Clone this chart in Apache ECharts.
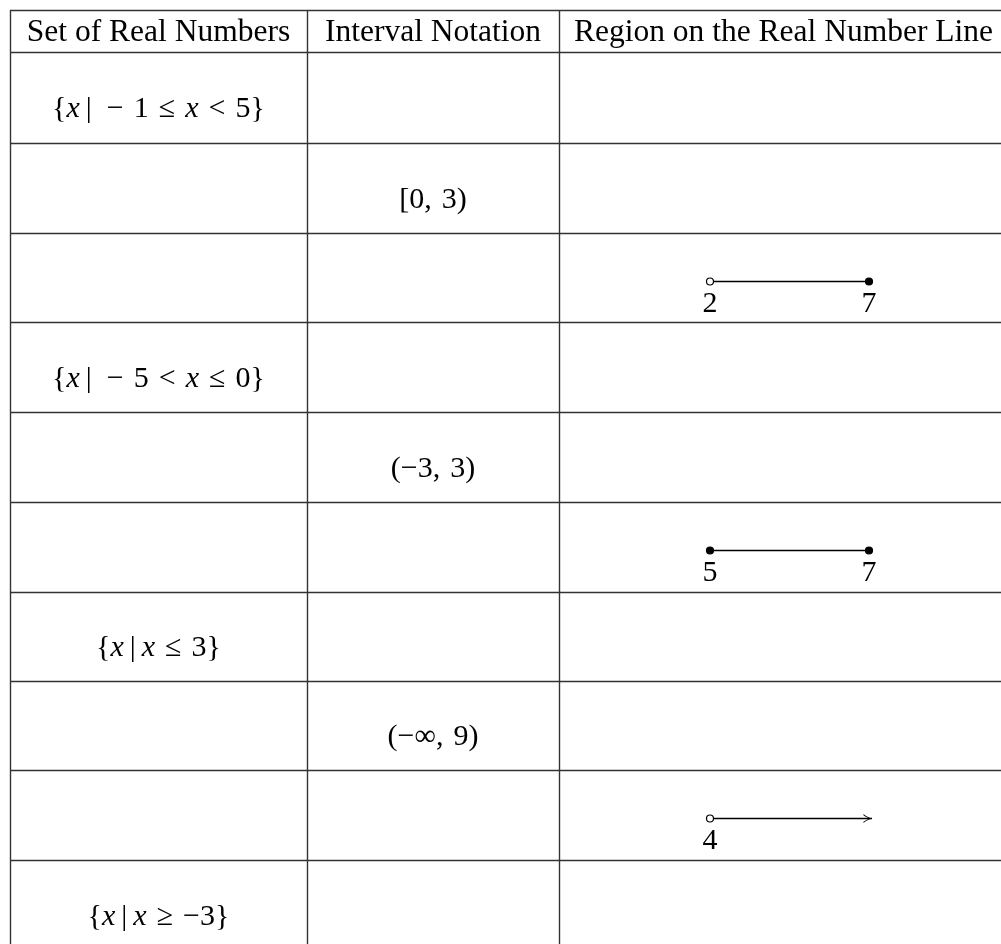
<!DOCTYPE html>
<html>
<head>
<meta charset="utf-8">
<script src="https://cdn.jsdelivr.net/npm/echarts@6/dist/echarts.min.js"></script>
<style>
html,body{margin:0;padding:0;background:#fff;}
#c{width:1001px;height:944px;}
</style>
</head>
<body>
<div id="c"></div>
<script>
// ---- data ----
var headers = ['Set of Real Numbers', 'Interval Notation', 'Region on the Real Number Line'];
// set-builder text per row (null = empty); pieces: [text, italic?]
var S = '\u2004', T = '\u2009', E = '\u2002';
var setRows = [
  [['{',0],['x',1],[T + '|' + E + '−' + S + '1' + S + '≤' + S,0],['x',1],[S + '<' + S + '5}',0]],
  null, null,
  [['{',0],['x',1],[T + '|' + E + '−' + S + '5' + S + '<' + S,0],['x',1],[S + '≤' + S + '0}',0]],
  null, null,
  [['{',0],['x',1],[T + '|' + T,0],['x',1],[S + '≤' + S + '3}',0]],
  null, null,
  [['{',0],['x',1],[T + '|' + T,0],['x',1],[S + '≥' + S + '−3}',0]]
];
var intervalRows = [null, '[0,' + S + '3)', null, null, '(−3,' + S + '3)', null, null, '(−∞,' + S + '9)', null, null];
// number lines: row index, start, end, start closed?, end closed? (end Infinity = arrow)
var lineRows    = [2, 5, 8];
var lineStart   = [2, 5, 4];
var lineEnd     = [7, 7, Infinity];
var startClosed = [false, true, false];
var endClosed   = [true, true, false];

// ---- layout ----
var colEdges = [10, 307, 559, 1008];
var rowEdges = [10, 52, 143, 233, 322, 412, 502, 592, 681, 770, 860, 950];
var FONT = '"Liberation Serif", "DejaVu Serif", serif';
var FS = 30, HFS = 31.5;
var LINE_COLOR = '#333';
var INK = '#000';

function rowTop(i){ return rowEdges[i + 1]; }
function rowBot(i){ return rowEdges[i + 2]; }

var graphics = [];
rowEdges.forEach(function(y, idx){
  if (idx === rowEdges.length - 1) return;
  graphics.push({type:'line', shape:{x1:colEdges[0], y1:y + 0.5, x2:colEdges[3], y2:y + 0.5}, style:{stroke:LINE_COLOR, lineWidth:1.4}, silent:true});
});
colEdges.forEach(function(x){
  graphics.push({type:'line', shape:{x1:x + 0.5, y1:rowEdges[0], x2:x + 0.5, y2:rowEdges[rowEdges.length - 1]}, style:{stroke:LINE_COLOR, lineWidth:1.4}, silent:true});
});
headers.forEach(function(h, j){
  graphics.push({type:'text', x:(colEdges[j] + colEdges[j + 1]) / 2, y:(rowEdges[0] + rowEdges[1]) / 2 + 2,
    style:{text:h, font: HFS + 'px ' + FONT, fill:INK, align:'center', verticalAlign:'middle'}, silent:true});
});
var rich = {
  i: {fontFamily: FONT, fontSize: FS, fontStyle: 'italic', fill:INK}
};
setRows.forEach(function(r, i){
  if (!r) return;
  var txt = r.map(function(p){ return p[1] ? '{i|' + p[0] + '}' : p[0]; }).join('');
  graphics.push({type:'text', x:(colEdges[0] + colEdges[1]) / 2, y:(rowTop(i) + rowBot(i)) / 2 + 12,
    style:{text: txt, rich: rich, font: FS + 'px ' + FONT, fill:INK, align:'center', verticalAlign:'middle'}, silent:true});
});
intervalRows.forEach(function(t, i){
  if (!t) return;
  graphics.push({type:'text', x:(colEdges[1] + colEdges[2]) / 2, y:(rowTop(i) + rowBot(i)) / 2 + 12,
    style:{text: t, font: FS + 'px ' + FONT, fill:INK, align:'center', verticalAlign:'middle'}, silent:true});
});

// number lines
var grids = [], xAxes = [], yAxes = [], series = [];
var arrowPath = 'path://M0,0 C3,3 7,4.3 10,5 C7,5.7 3,7 0,10 L0,8.7 C2.5,6.8 5,5.8 6.8,5 C5,4.2 2.5,3.2 0,1.3 Z';
lineRows.forEach(function(r, k){
  var y = rowTop(r) + 48.5;
  var ray = !isFinite(lineEnd[k]);
  var end = ray ? lineStart[k] + 1 : lineEnd[k];
  grids.push({left: 710, width: ray ? 162 : 159, top: y - 10, height: 20, containLabel:false});
  xAxes.push({type:'value', gridIndex:k, min: lineStart[k], max: end, show:false});
  yAxes.push({type:'value', gridIndex:k, min:-1, max:1, show:false});
  series.push({type:'line', xAxisIndex:k, yAxisIndex:k, data:[[lineStart[k], 0], [end, 0]],
    symbol:'none', lineStyle:{color:INK, width:1.5}, silent:true, animation:false, z:2});
  var pts = [{value:[lineStart[k], 0], closed:startClosed[k], label:String(lineStart[k])}];
  if (!ray) pts.push({value:[end, 0], closed:endClosed[k], label:String(lineEnd[k])});
  series.push({type:'scatter', xAxisIndex:k, yAxisIndex:k, z:3, silent:true, animation:false,
    data: pts.map(function(p){
      return {value:p.value, symbol:'circle', symbolSize:7,
        itemStyle:{color: p.closed ? INK : '#fff', borderColor:INK, borderWidth:1.2, opacity:1},
        label:{show:true, position:'bottom', distance:4, formatter:p.label, fontFamily:FONT, fontSize:FS, color:INK, opacity:1}};
    })});
  if (ray) {
    series.push({type:'scatter', xAxisIndex:k, yAxisIndex:k, z:3, silent:true, animation:false,
      data:[{value:[end, 0], symbol:arrowPath, symbolSize:[9, 9], symbolOffset:[-4, 0], itemStyle:{color:INK, opacity:1}}]});
  }
});

var chart = echarts.init(document.getElementById('c'), null, {renderer:'canvas'});
chart.setOption({
  animation:false,
  backgroundColor:'#fff',
  grid: grids, xAxis: xAxes, yAxis: yAxes, series: series,
  graphic: graphics
});
</script>
</body>
</html>
